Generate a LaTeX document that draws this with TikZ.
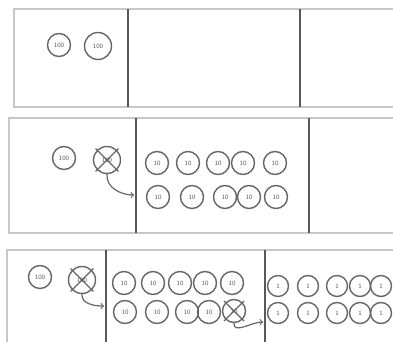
\documentclass[tikz,border=0pt]{standalone}
\usepackage{tikz}
\usetikzlibrary{arrows,positioning}

\begin{document}
\begin{tikzpicture}[
    x=1pt, y=-1pt,
    frame/.style={draw=black!22, line width=1.5pt},
    divider/.style={draw=black!65, line width=1.8pt},
    coin/.style={draw=black!60, circle, line width=1.4pt, inner sep=0pt,
                 minimum size=23pt, font=\fontsize{6.5}{6.5}\selectfont\sffamily,
                 text=black!65},
    bigcoin/.style={coin, minimum size=27pt},
    onecoin/.style={coin, minimum size=21pt},
    cross/.style={draw=black!60, line width=1.3pt, shorten <=-2pt, shorten >=-2pt},
    arrow/.style={->, draw=black!60, line width=1.2pt}
]
\useasboundingbox (0,0) rectangle (393,342);

% panel 1
\draw[frame] (396,9) -- (14,9) -- (14,107) -- (396,107);
\draw[divider] (128,9) -- (128,107);
\draw[divider] (300,9) -- (300,107);
\node[coin] (p1a) at (59,45) {100};
\node[bigcoin] (p1b) at (98,46) {100};

% panel 2
\draw[frame] (396,118) -- (9,118) -- (9,233) -- (396,233);
\draw[divider] (136,118) -- (136,233);
\draw[divider] (309,118) -- (309,233);
\node[coin] (p2a) at (64,158) {100};
\node[bigcoin] (p2x) at (107,160) {100};
\draw[cross] (p2x.north west) -- (p2x.south east);
\draw[cross] (p2x.north east) -- (p2x.south west);
\foreach \i/\x in {1/157,2/188,3/218,4/243,5/275}
  \node[coin] (p2t\i) at (\x,163) {10};
\foreach \i/\x in {1/158,2/192,3/225,4/249,5/276}
  \node[coin] (p2b\i) at (\x,197) {10};
\coordinate (p2in) at (134,195);
\draw[arrow] (p2x.south) to[out=-95, in=180] (p2in);

% panel 3
\draw[frame] (396,250) -- (7,250) -- (7,345);
\draw[divider] (106,250) -- (106,345);
\draw[divider] (265,250) -- (265,345);
\node[coin] (p3a) at (40,277) {100};
\node[bigcoin] (p3x) at (82,280) {100};
\draw[cross] (p3x.north west) -- (p3x.south east);
\draw[cross] (p3x.north east) -- (p3x.south west);
\foreach \i/\x in {1/124,2/153,3/180,4/205,5/232}
  \node[coin] (p3t\i) at (\x,283) {10};
\foreach \i/\x in {1/125,2/157,3/187,4/209}
  \node[coin] (p3b\i) at (\x,312) {10};
\node[coin] (p3b5) at (234,311) {10};
\draw[cross] (p3b5.north west) -- (p3b5.south east);
\draw[cross] (p3b5.north east) -- (p3b5.south west);
\coordinate (p3in) at (104,306);
\draw[arrow] (p3x.south) to[out=-95, in=180] (p3in);
\coordinate (p3in2) at (263,322);
\draw[arrow] (p3b5.south) to[out=-95, in=180] (p3in2);
\foreach \i/\x in {1/278,2/308,3/337,4/360,5/381}
  \node[onecoin] (p3o\i) at (\x,286) {1};
\foreach \i/\x in {1/278,2/308,3/337,4/360,5/381}
  \node[onecoin] (p3u\i) at (\x,313) {1};
\end{tikzpicture}
\end{document}
